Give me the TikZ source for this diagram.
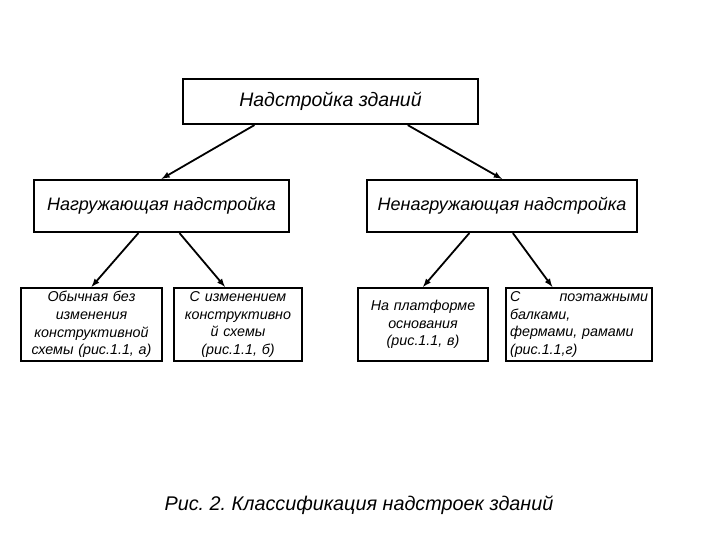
\documentclass[tikz,border=0pt]{standalone}
\usepackage{fontspec}
\setmainfont{Liberation Sans}
\frenchspacing
\usetikzlibrary{calc}

\begin{document}
\begin{tikzpicture}[>=latex, x=1pt, y=1pt,
  box/.style={draw, line width=2.2pt, inner sep=0pt,
    font=\itshape\fontsize{18}{20}\selectfont},
  small/.style={draw, line width=2.2pt, inner xsep=4pt, inner ysep=0pt,
    minimum height=73, font=\itshape\fontsize{14.3}{17.6}\selectfont},
  arr/.style={->, line width=1.8pt}]
  \useasboundingbox (0,0) rectangle (720,540);
  \node [box, minimum width=295, minimum height=45, font=\itshape\fontsize{19.5}{22}\selectfont] (top) at (330.5,438.5) {Надстройка зданий};
  \node [box, minimum width=255, minimum height=52] (load) at (161.5,334) {Нагружающая надстройка};
  \node [box, minimum width=270, minimum height=52] (noload) at (502,334) {Ненагружающая надстройка};
  \node [small, text width=133, align=center] (ord) at (91.5,215.5)
    {Обычная без\\изменения\\конструктивной\\схемы (рис.1.1, а)};
  \node [small, text width=120, align=center] (chg) at (238,215.5)
    {С изменением\\конструктивно\\й схемы\\(рис.1.1, б)};
  \node [small, text width=122, align=center] (plat) at (423,215.5)
    {На платформе\\основания\\(рис.1.1, в)};
  \node [small, text width=138, align=left] (floor) at (579,215.5)
    {С\hfill поэтажными\\балками,\\фермами, рамами\\(рис.1.1,г)};
  \node [font=\itshape\fontsize{19.8}{22}\selectfont] (cap) at (359,35)
    {Рис. 2. Классификация надстроек зданий};
  \draw [arr] ($(top.south west)!0.244!(top.south east)$) -- (load.north);
  \draw [arr] ($(top.south west)!0.76!(top.south east)$) -- (noload.north);
  \draw [arr] ($(load.south west)!0.41!(load.south east)$) -- (ord.north);
  \draw [arr] ($(load.south west)!0.57!(load.south east)$) -- ($(chg.north west)!0.4!(chg.north east)$);
  \draw [arr] ($(noload.south west)!0.38!(noload.south east)$) -- (plat.north);
  \draw [arr] ($(noload.south west)!0.54!(noload.south east)$) -- ($(floor.north west)!0.32!(floor.north east)$);
\end{tikzpicture}
\end{document}
